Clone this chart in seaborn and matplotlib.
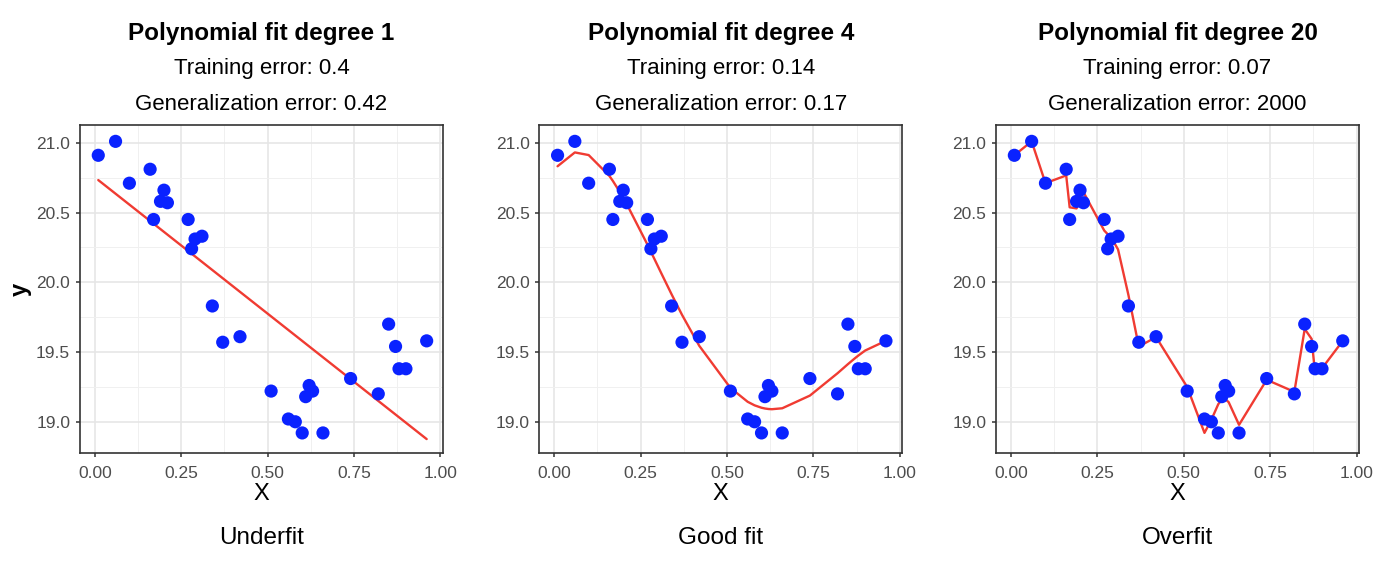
import numpy as np
import pandas as pd
import matplotlib
matplotlib.use("Agg")
import matplotlib.pyplot as plt
import seaborn as sns
from matplotlib.ticker import MultipleLocator

# data points (same points in every panel)
x_vals = [0.01, 0.06, 0.10, 0.16, 0.17, 0.19, 0.20, 0.21, 0.27, 0.28,
          0.29, 0.31, 0.34, 0.37, 0.42, 0.51, 0.56, 0.58, 0.60, 0.61,
          0.62, 0.63, 0.66, 0.74, 0.82, 0.85, 0.87, 0.88, 0.90, 0.96]
y_vals = [20.91, 21.01, 20.71, 20.81, 20.45, 20.58, 20.66, 20.57, 20.45, 20.24,
          20.31, 20.33, 19.83, 19.57, 19.61, 19.22, 19.02, 19.00, 18.92, 19.18,
          19.26, 19.22, 18.92, 19.31, 19.20, 19.70, 19.54, 19.38, 19.38, 19.58]

degrees = [1, 4, 20]
train_errors = ["0.4", "0.14", "0.07"]
gen_errors = ["0.42", "0.17", "2000"]
captions = ["Underfit", "Good fit", "Overfit"]

df = pd.DataFrame({"X": x_vals, "y": y_vals}).sort_values("X")

sns.set_theme(style="whitegrid")
plt.rcParams['font.family'] = ['Liberation Sans', 'DejaVu Sans']
plt.rcParams['text.color'] = 'black'

fig = plt.figure(figsize=(13.88, 5.66), dpi=100)
lefts = [0.0576, 0.3885, 0.7176]

for i, deg in enumerate(degrees):
    ax = fig.add_axes([lefts[i], 0.1996, 0.2615, 0.5795])
    # polynomial fit of the given degree, evaluated at the sorted x values
    p = np.polynomial.Polynomial.fit(df["X"], df["y"], deg)
    fit = pd.DataFrame({"X": df["X"], "pred": p(df["X"].values)})

    sns.lineplot(data=fit, x="X", y="pred", ax=ax, color="#f03b32", lw=1.7,
                 sort=False, zorder=2)
    sns.scatterplot(data=df, x="X", y="y", ax=ax, color="#0a22ff", s=90,
                    edgecolor="none", zorder=3)

    ax.set_xlim(-0.043, 1.007)
    ax.set_ylim(18.776, 21.127)
    ax.xaxis.set_major_locator(MultipleLocator(0.25))
    ax.xaxis.set_minor_locator(MultipleLocator(0.125))
    ax.yaxis.set_major_locator(MultipleLocator(0.5))
    ax.yaxis.set_minor_locator(MultipleLocator(0.25))
    ax.set_xticks([0, 0.25, 0.5, 0.75, 1.0])
    ax.set_xticklabels(["0.00", "0.25", "0.50", "0.75", "1.00"])
    ax.grid(which="major", color="#e6e6e6", lw=1.2)
    ax.grid(which="minor", color="#f0f0f0", lw=0.7)
    ax.set_facecolor("white")
    for s in ax.spines.values():
        s.set_color("#333333")
        s.set_linewidth(1.2)
    ax.tick_params(axis="both", which="major", length=3, width=1.1, color="#333333",
                   labelsize=12.5, labelcolor="#4d4d4d", pad=4,
                   bottom=True, left=True)
    ax.tick_params(axis="x", which="major", pad=6)
    ax.tick_params(which="minor", length=0)

    ax.set_xlabel("X", fontsize=17, color="black", labelpad=1.5)
    if i == 0:
        ax.set_ylabel("y", fontsize=17, fontweight="bold", color="black", labelpad=3)
    else:
        ax.set_ylabel("")

    cx = 0.5
    ax.text(cx, 1.278, f"Polynomial fit degree {deg}", transform=ax.transAxes,
            ha="center", va="center", fontsize=17.5, fontweight="bold")
    ax.text(cx, 1.173, f"Training error: {train_errors[i]}", transform=ax.transAxes,
            ha="center", va="center", fontsize=16)
    ax.text(cx, 1.063, f"Generalization error: {gen_errors[i]}", transform=ax.transAxes,
            ha="center", va="center", fontsize=16)
    ax.text(cx, -0.258, captions[i], transform=ax.transAxes,
            ha="center", va="center", fontsize=17.5)

fig.savefig("out.png", dpi=100, facecolor="white")
